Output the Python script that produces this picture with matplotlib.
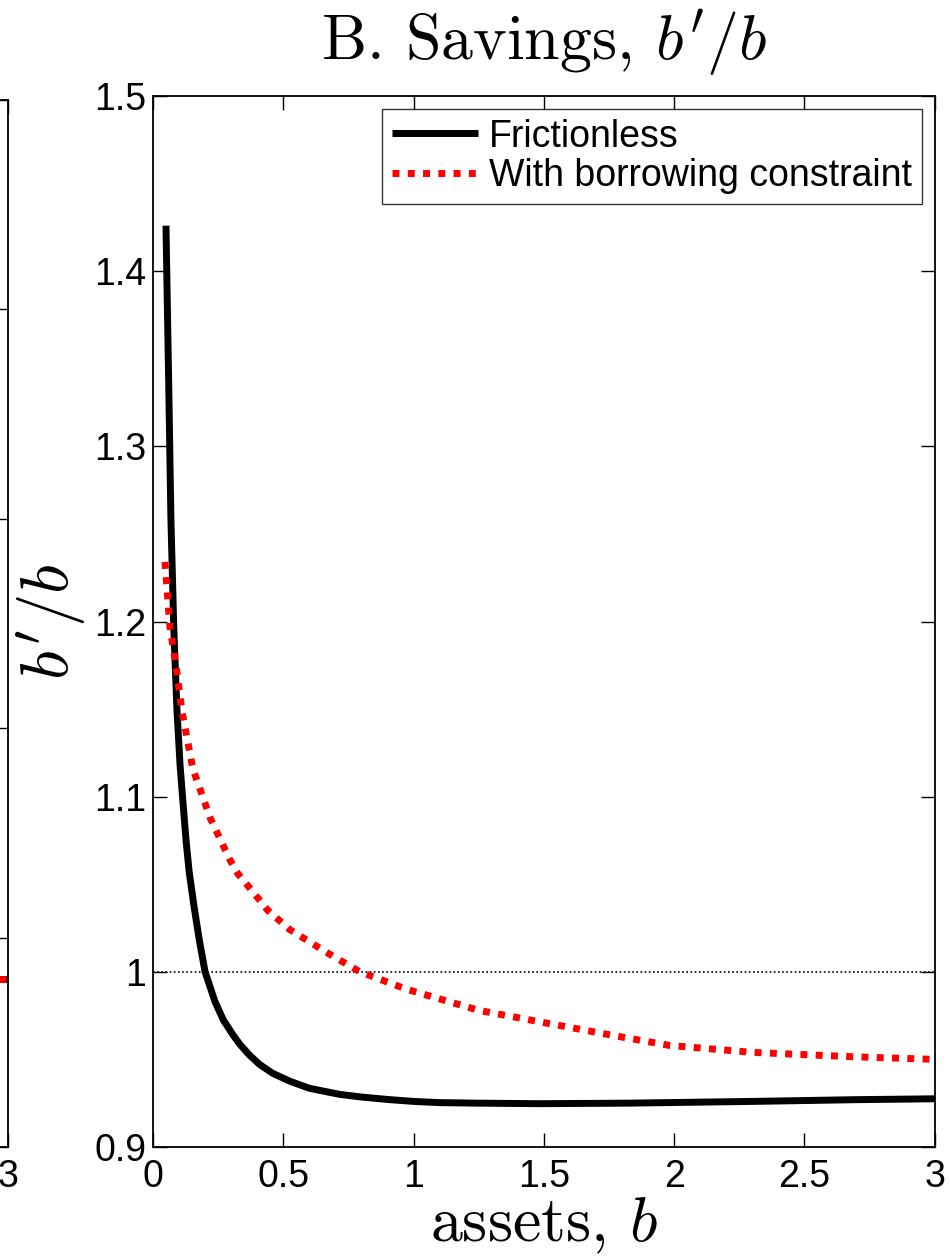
import matplotlib
matplotlib.use("Agg")
import matplotlib.pyplot as plt

plt.rcParams['mathtext.fontset'] = 'cm'
plt.rcParams['font.family'] = ['Liberation Sans', 'DejaVu Sans']

# Panel B: savings ratio b'/b against assets b
b_frictionless = [0.050, 0.055, 0.060, 0.069, 0.080, 0.092, 0.104, 0.114, 0.127, 0.139,
                  0.158, 0.178, 0.200, 0.238, 0.270, 0.307, 0.334, 0.370, 0.410, 0.460,
                  0.526, 0.600, 0.717, 0.800, 0.909, 1.00, 1.10, 1.25, 1.48, 1.82,
                  2.30, 2.70, 3.00]
ratio_frictionless = [1.426, 1.382, 1.340, 1.258, 1.196, 1.150, 1.118, 1.099, 1.075, 1.057,
                      1.037, 1.018, 1.000, 0.983, 0.9725, 0.964, 0.9585, 0.9525, 0.947, 0.942,
                      0.9375, 0.9335, 0.930, 0.9285, 0.927, 0.926, 0.9253, 0.925, 0.9247, 0.925,
                      0.926, 0.927, 0.9275]

b_constrained = [0.046, 0.065, 0.092, 0.111, 0.153, 0.219, 0.295, 0.326, 0.398, 0.441,
                 0.526, 0.667, 0.794, 0.974, 1.25, 1.50, 1.79, 1.98, 2.30, 2.685, 3.00]
ratio_constrained = [1.234, 1.197, 1.171, 1.149, 1.116, 1.088, 1.064, 1.056, 1.043, 1.035,
                     1.024, 1.011, 1.000, 0.990, 0.978, 0.971, 0.963, 0.958, 0.954, 0.9515,
                     0.950]

x_ticks = [0, 0.5, 1, 1.5, 2, 2.5, 3]
x_ticklabels = ['0', '0.5', '1', '1.5', '2', '2.5', '3']
y_ticks = [0.9, 1.0, 1.1, 1.2, 1.3, 1.4, 1.5]
y_ticklabels = ['0.9', '1', '1.1', '1.2', '1.3', '1.4', '1.5']

# Panel A (neighbouring panel, only its right edge is in view)
a_b = [2.8, 3.0]
a_frictionless = [0.16, 0.16]
a_constrained = [0.16, 0.16]
a_y_ticks = [0, 0.2, 0.4, 0.6, 0.8, 1.0]

TICK_FS = 27
dotted_red = (0, (1, 1.2))

fig = plt.figure(figsize=(9.5, 12.59), dpi=100)

tick_kw = dict(direction='in', length=10, width=1.0, top=True, right=True)

# neighbouring panel A
axA = fig.add_axes([-0.815, 0.089, 0.8234, 0.8317])
axA.plot(a_b, a_frictionless, color='black', lw=5, solid_capstyle='butt')
axA.plot(a_b, a_constrained, color='red', lw=5, linestyle=dotted_red,
         dash_capstyle='butt')
axA.set_xlim(0, 3)
axA.set_ylim(0, 1)
axA.set_xticks([0, 1, 2, 3])
axA.set_xticklabels(['0', '1', '2', '3'], fontsize=TICK_FS)
axA.set_yticks(a_y_ticks)
axA.set_yticklabels([])
axA.tick_params(**tick_kw)
axA.tick_params(axis='x', pad=9)
for s in axA.spines.values():
    s.set_linewidth(1.3)

# panel B
ax = fig.add_axes([0.161, 0.089, 0.823, 0.8347])
ax.axhline(1.0, color='black', lw=1.2, linestyle=(0, (1, 1.5)))
ax.plot(b_frictionless, ratio_frictionless, color='black', lw=5,
        solid_capstyle='butt', solid_joinstyle='round', label='Frictionless')
ax.plot(b_constrained, ratio_constrained, color='red', lw=5,
        linestyle=dotted_red, dash_capstyle='butt',
        label='With borrowing constraint')

ax.set_xlim(0, 3)
ax.set_ylim(0.9, 1.5)
ax.set_xticks(x_ticks)
ax.set_xticklabels(x_ticklabels, fontsize=TICK_FS)
ax.set_yticks(y_ticks)
ax.set_yticklabels(y_ticklabels, fontsize=TICK_FS)
ax.tick_params(**tick_kw)
ax.tick_params(axis='x', pad=9)
ax.tick_params(axis='y', pad=5)
for s in ax.spines.values():
    s.set_linewidth(1.3)

ax.set_title("B. Savings, $b'/b$", fontsize=46, fontfamily='cmr10', pad=26)
ax.set_xlabel("assets, $b$", fontsize=46, fontfamily='cmr10', labelpad=0)
ax.set_ylabel(r"$b'/b$", fontsize=48, labelpad=4)

leg = ax.legend(loc='upper right', fontsize=27, frameon=True, fancybox=False,
                handlelength=2.3, handletextpad=0.3, borderpad=0.25,
                labelspacing=0.1, borderaxespad=0.35)
leg.get_frame().set_edgecolor('black')
leg.get_frame().set_linewidth(1.0)

fig.savefig('out.png', dpi=100)
